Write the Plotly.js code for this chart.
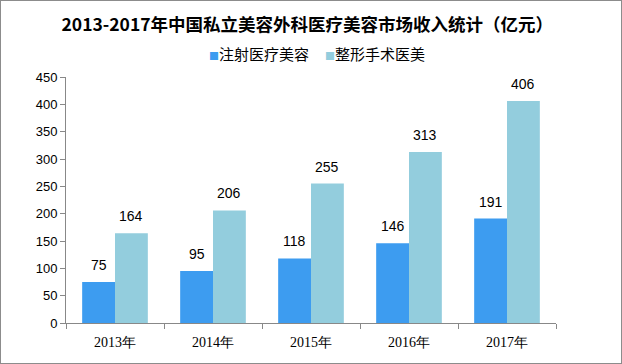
<!DOCTYPE html>
<html><head><meta charset="utf-8">
<script src="https://cdn.plot.ly/plotly-3.0.1.min.js"></script>
<style>html,body{margin:0;padding:0;background:#fff}#c{width:620px;height:362px;border:1px solid #8c8c8c}</style>
</head><body><div id="c"></div>
<script>
const years = ['2013年','2014年','2015年','2016年','2017年'];
const injection = [75, 95, 118, 146, 191];
const surgery = [164, 206, 255, 313, 406];
const seriesNames = ['注射医疗美容','整形手术医美'];
const colors = ['#3d9cf0','#93cddd'];
const series = [injection, surgery];
const lblFont = {family:'Liberation Sans, Arial, sans-serif', size:14, color:'#000'};
const traces = series.map((v,i)=>({
  type:'bar', x:years, y:v, name:seriesNames[i], marker:{color:colors[i]}
}));
const W = 620, ML = 65, MR = 65, bargap = 0.33;
const plotW = W - ML - MR;
const catW = plotW / years.length;
const barW = catW * (1 - bargap) / 2;
const annotations = [];
series.forEach((v,i)=>{
  v.forEach((val,j)=>{
    annotations.push({x:years[j], y:val, xref:'x', yref:'y', text:String(val), showarrow:false,
      xanchor:'center', yanchor:'bottom', xshift:(i===0?-1:1)*barW/2, yshift:7, font:lblFont});
  });
});
const legendX = [206, 322];
seriesNames.forEach((n,i)=>{
  annotations.push({xref:'paper', yref:'paper', x:(legendX[i]-ML)/plotW, y:1.095, xanchor:'left', yanchor:'middle',
    showarrow:false, text:'<span style="color:'+colors[i]+';font-size:10px">■</span>'+n,
    font:{family:'Noto Sans CJK SC, sans-serif', size:15, color:'#000'}});
});
const layout = {
  width:W, height:362,
  margin:{l:ML, r:MR, t:76, b:40},
  paper_bgcolor:'#fff', plot_bgcolor:'#fff',
  title:{text:'<b>2013-2017年中国私立美容外科医疗美容市场收入统计（亿元）</b>', x:0.494, xanchor:'center', y:0.935, yanchor:'middle',
    font:{family:'Noto Sans CJK SC, sans-serif', size:17.5, color:'#000'}},
  showlegend:false,
  barmode:'group', bargap:bargap, bargroupgap:0,
  annotations:annotations,
  xaxis:{showline:true, linecolor:'#888', linewidth:1, ticks:'outside', tickson:'boundaries', ticklen:5, tickcolor:'#888',
    ticklabelstandoff:6, tickfont:{family:'Liberation Serif, serif', size:14, color:'#000'}, showgrid:false},
  yaxis:{range:[0,450], dtick:50, showline:true, linecolor:'#888', linewidth:1, ticks:'outside', ticklen:5, tickcolor:'#888',
    showgrid:false, zeroline:false, tickfont:{family:'Liberation Sans, Arial, sans-serif', size:13, color:'#000'}}
};
Plotly.newPlot('c', traces, layout, {displayModeBar:false, staticPlot:true});
</script></body></html>
